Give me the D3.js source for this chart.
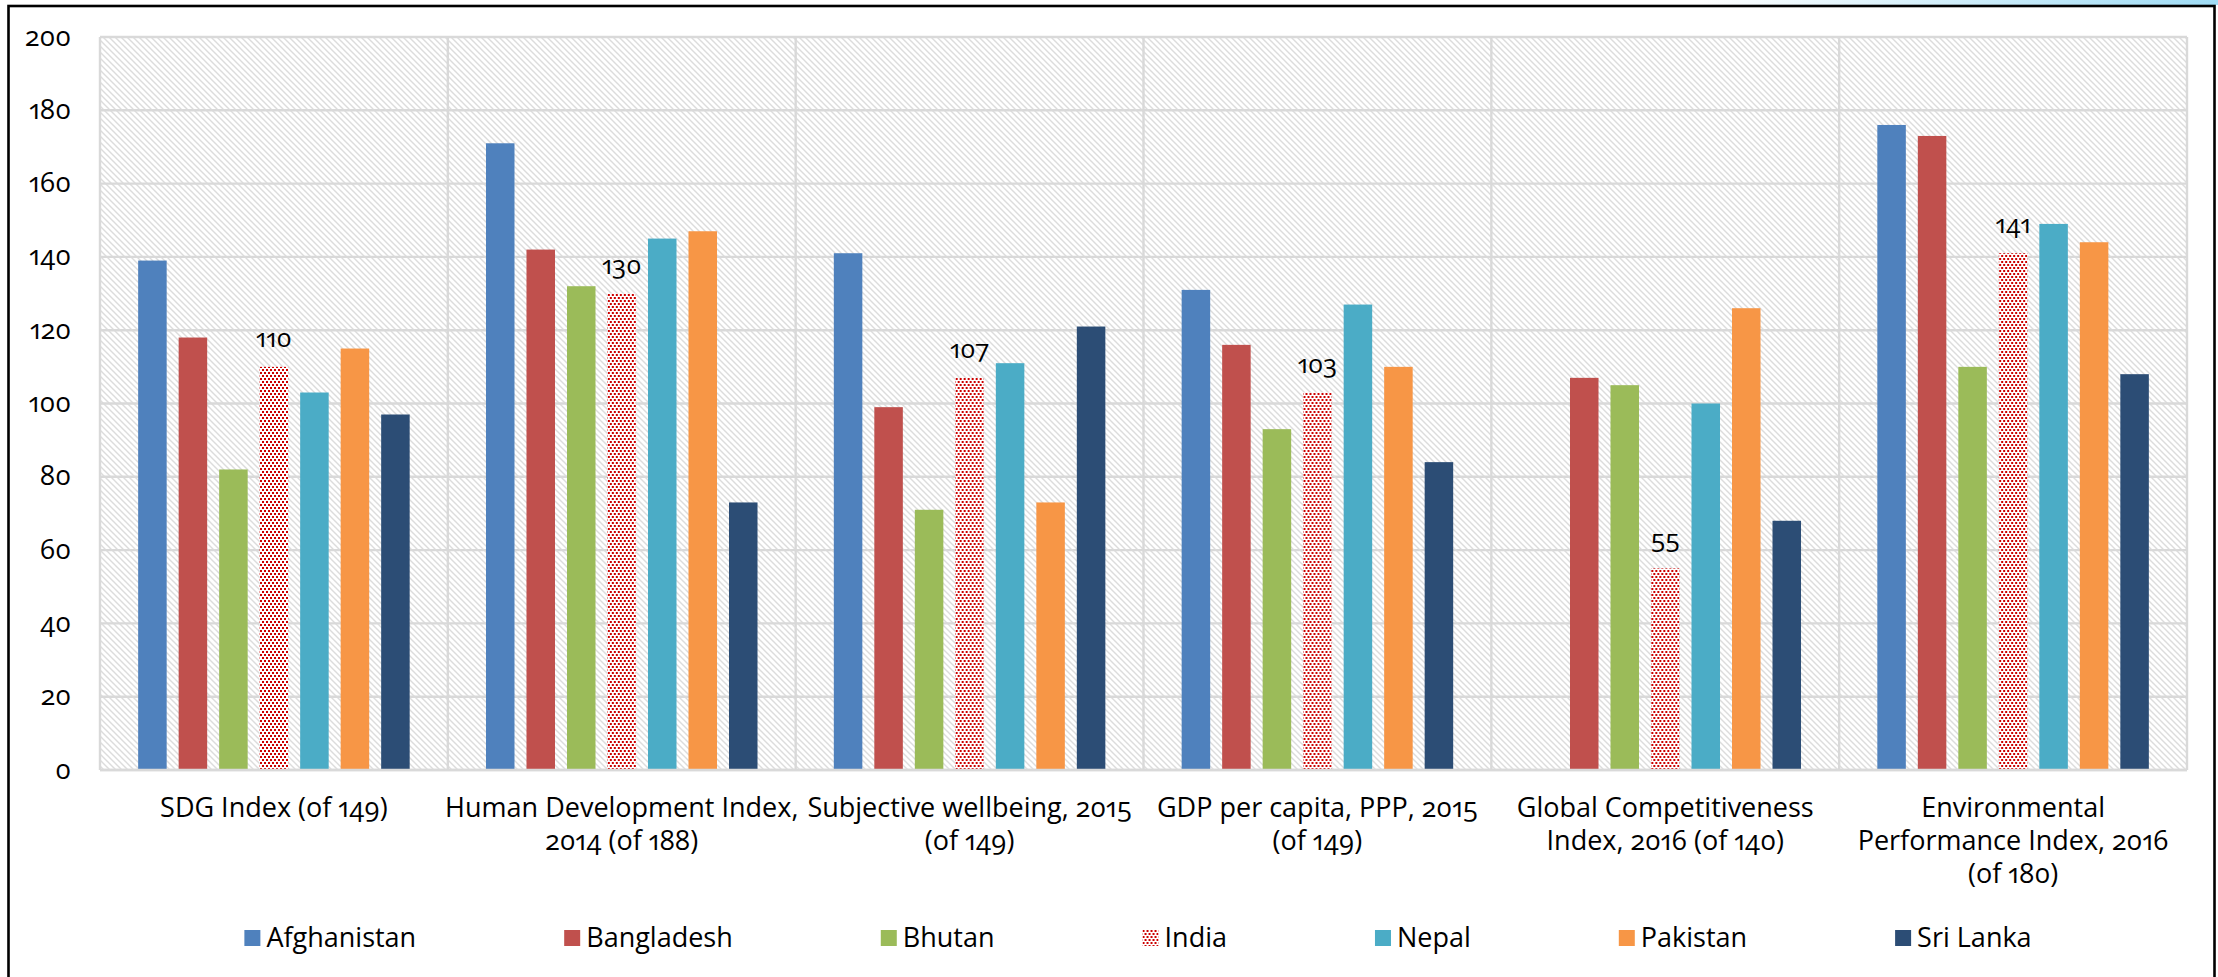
<!DOCTYPE html>
<html>
<head>
<meta charset="utf-8">
<script src="https://cdn.jsdelivr.net/npm/d3@7"></script>
<style>
  html, body { margin: 0; padding: 0; background: #ffffff; }
  svg { display: block; }
  text { font-family: "Open Sans", "Noto Sans", sans-serif; fill: #000; font-variant-numeric: oldstyle-nums proportional-nums; }
</style>
</head>
<body>
<svg id="chart" width="2218" height="977"></svg>
<script>
// ---- data ----
const categoryLines = [
  ["SDG Index (of 149)"],
  ["Human Development Index,", "2014 (of 188)"],
  ["Subjective wellbeing, 2015", "(of 149)"],
  ["GDP per capita, PPP, 2015", "(of 149)"],
  ["Global Competitiveness", "Index, 2016 (of 140)"],
  ["Environmental", "Performance Index, 2016", "(of 180)"]
];
const categories = categoryLines.map(l => l.join(" "));
const countries = ["Afghanistan", "Bangladesh", "Bhutan", "India", "Nepal", "Pakistan", "Sri Lanka"];

// ranks per indicator, in category order (null = not ranked)
const afghanistan = [139, 171, 141, 131, null, 176];
const bangladesh  = [118, 142,  99, 116, 107, 173];
const bhutan      = [ 82, 132,  71,  93, 105, 110];
const india       = [110, 130, 107, 103,  55, 141];
const nepal       = [103, 145, 111, 127, 100, 149];
const pakistan    = [115, 147,  73, 110, 126, 144];
const sriLanka    = [ 97,  73, 121,  84,  68, 108];

const seriesValues = [afghanistan, bangladesh, bhutan, india, nepal, pakistan, sriLanka];
const yTicks = [0, 20, 40, 60, 80, 100, 120, 140, 160, 180, 200];
const labelledCountry = "India";

// ---- styling ----
const seriesFill = {
  "Afghanistan": "#4f81bd",
  "Bangladesh": "#c0504d",
  "Bhutan": "#9bbb59",
  "India": "url(#indiaDots)",
  "Nepal": "#4bacc6",
  "Pakistan": "#f79646",
  "Sri Lanka": "#2c4d75"
};

const svg = d3.select("#chart");
const plot = { left: 100, right: 2187, top: 37, bottom: 770 };

// ---- patterns ----
const defs = svg.append("defs");
const hatch = defs.append("pattern")
  .attr("id", "hatch").attr("patternUnits", "userSpaceOnUse")
  .attr("width", 6).attr("height", 6);
hatch.append("rect").attr("width", 6).attr("height", 6).attr("fill", "#ffffff");
hatch.append("path")
  .attr("d", "M-1,-1 L7,7 M-1,5 L1,7 M5,-1 L7,1")
  .attr("stroke", "#dcdcdc").attr("stroke-width", 1.4);

// India bars: staggered red dots on white
const dots = defs.append("pattern")
  .attr("id", "indiaDots").attr("patternUnits", "userSpaceOnUse")
  .attr("width", 4).attr("height", 6);
dots.append("rect").attr("width", 4).attr("height", 6).attr("fill", "#ffffff");
dots.append("rect").attr("x", 0).attr("y", 0).attr("width", 2).attr("height", 2).attr("fill", "#cc0000");
dots.append("rect").attr("x", 2).attr("y", 3).attr("width", 2).attr("height", 2).attr("fill", "#cc0000");

const topGlow = defs.append("linearGradient").attr("id", "topGlow");
topGlow.append("stop").attr("offset", "0%").attr("stop-color", "#ffffff");
topGlow.append("stop").attr("offset", "100%").attr("stop-color", "#9fdcf5");

// ---- frame ----
svg.append("rect").attr("x", 1700).attr("y", 0).attr("width", 518).attr("height", 5)
  .attr("fill", "url(#topGlow)");
svg.append("rect").attr("x", 8.5).attr("y", 6).attr("width", 2206).attr("height", 1000)
  .attr("fill", "#ffffff").attr("stroke", "#000").attr("stroke-width", 2.6);

// ---- scales ----
const x0 = d3.scaleBand().domain(categories).range([plot.left, plot.right]).padding(0);
const x1 = d3.scaleBand().domain(countries).range([0, x0.bandwidth()])
  .paddingInner(0.296).paddingOuter(0.942);
const y = d3.scaleLinear().domain([0, 200]).range([plot.bottom, plot.top]);

// ---- plot background & grid ----
svg.append("rect")
  .attr("x", plot.left).attr("y", plot.top)
  .attr("width", plot.right - plot.left).attr("height", plot.bottom - plot.top)
  .attr("fill", "url(#hatch)");

const grid = svg.append("g").attr("stroke", "#d9d9d9").attr("stroke-width", 2.4);
grid.selectAll("line.h").data(yTicks).join("line")
  .attr("x1", plot.left).attr("x2", plot.right)
  .attr("y1", d => y(d)).attr("y2", d => y(d));
grid.selectAll("line.v").data(categories.concat([null])).join("line")
  .attr("x1", (d, i) => i < categories.length ? x0(d) : plot.right)
  .attr("x2", (d, i) => i < categories.length ? x0(d) : plot.right)
  .attr("y1", plot.top).attr("y2", plot.bottom);

// ---- y axis ----
const yAxis = d3.axisLeft(y).tickValues(yTicks).tickSize(0).tickPadding(0);
const yG = svg.append("g").attr("transform", `translate(71,0)`).call(yAxis);
yG.select(".domain").remove();
yG.selectAll("text")
  .attr("font-size", 27).attr("font-family", null).attr("dy", null).attr("y", 8)
  .attr("x", 0).attr("text-anchor", "end");

// ---- bars ----
const groups = svg.append("g").selectAll("g").data(categories).join("g")
  .attr("transform", d => `translate(${x0(d)},0)`);

groups.selectAll("rect")
  .data((c, ci) => countries.map((k, si) => ({ country: k, value: seriesValues[si][ci] }))
    .filter(d => d.value != null))
  .join("rect")
  .attr("x", d => x1(d.country))
  .attr("width", x1.bandwidth())
  .attr("y", d => y(d.value))
  .attr("height", d => y(0) - y(d.value))
  .attr("fill", d => seriesFill[d.country]);

// value labels for the highlighted country
groups.selectAll("text.val")
  .data((c, ci) => {
    const si = countries.indexOf(labelledCountry);
    const v = seriesValues[si][ci];
    return v == null ? [] : [{ country: labelledCountry, value: v }];
  })
  .join("text").attr("class", "val")
  .attr("x", d => x1(d.country) + x1.bandwidth() / 2)
  .attr("y", d => y(d.value) - 20)
  .attr("text-anchor", "middle")
  .attr("font-size", 26)
  .text(d => d.value);

// ---- x axis ----
svg.append("line")
  .attr("x1", plot.left).attr("x2", plot.right)
  .attr("y1", plot.bottom).attr("y2", plot.bottom)
  .attr("stroke", "#d9d9d9").attr("stroke-width", 2.4);

const xLabels = svg.append("g").selectAll("text").data(categoryLines).join("text")
  .attr("text-anchor", "middle").attr("font-size", 27)
  .attr("transform", (d, i) => `translate(${x0(categories[i]) + x0.bandwidth() / 2},817)`);
xLabels.selectAll("tspan").data(d => d).join("tspan")
  .attr("x", 0).attr("y", (d, i) => i * 33)
  .text(d => d);

// ---- legend ----
const legendCenter = 1138, legendTop = 930, markerSize = 16, textGap = 22, itemGap = 148;
const legend = svg.append("g");
const items = legend.selectAll("g").data(countries).join("g");
items.append("rect")
  .attr("width", markerSize).attr("height", markerSize)
  .attr("y", legendTop)
  .attr("fill", d => seriesFill[d]);
items.append("text")
  .attr("x", textGap).attr("y", legendTop + 17)
  .attr("font-size", 27)
  .text(d => d);

const widths = [];
items.each(function () { widths.push(textGap + d3.select(this).select("text").node().getComputedTextLength()); });
const total = d3.sum(widths) + itemGap * (widths.length - 1);
let cursor = legendCenter - total / 2;
items.attr("transform", (d, i) => {
  const t = `translate(${cursor},0)`;
  cursor += widths[i] + itemGap;
  return t;
});
</script>
</body>
</html>
